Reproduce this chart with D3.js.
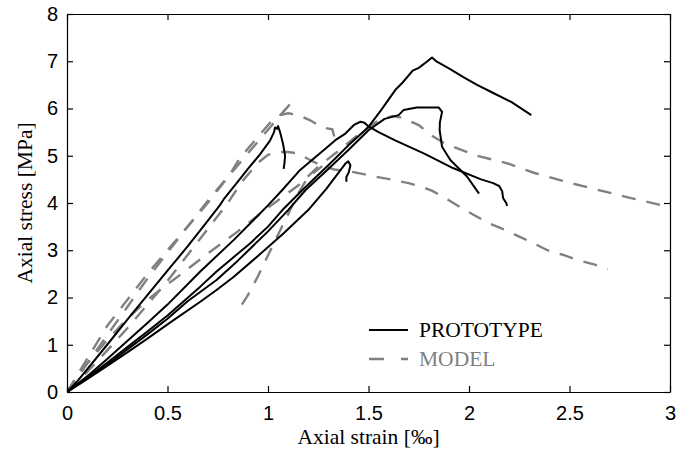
<!DOCTYPE html>
<html>
<head>
<meta charset="utf-8">
<script src="https://cdn.jsdelivr.net/npm/d3@7"></script>
<style>
  body { margin: 0; background: #fff; }
</style>
</head>
<body>
<div id="chart"></div>
<script>
// tick values
const xTicks = [0, 0.5, 1, 1.5, 2, 2.5, 3];
const yTicks = [0, 1, 2, 3, 4, 5, 6, 7, 8];
const xTickLabels = ["0", "0.5", "1", "1.5", "2", "2.5", "3"];

// PROTOTYPE curves, [strain ‰, stress MPa]
const proto1 = [[0,0],[0.05,0.22],[0.1,0.48],[0.2,1.0],[0.3,1.53],[0.4,2.05],[0.5,2.57],[0.6,3.08],[0.7,3.62],[0.76,3.95],[0.78,4.08],[0.85,4.45],[0.9,4.72],[0.96,5.03],[1.01,5.32],[1.03,5.5],[1.035,5.6],[1.045,5.57],[1.05,5.63],[1.06,5.5],[1.075,5.25],[1.085,5.0],[1.082,4.85],[1.078,4.72]];
const proto2 = [[0,0],[0.1,0.33],[0.2,0.7],[0.3,1.08],[0.4,1.46],[0.5,1.85],[0.663,2.55],[0.83,3.22],[1.0,3.95],[1.07,4.27],[1.16,4.7],[1.25,5.02],[1.3,5.2],[1.335,5.33],[1.385,5.47],[1.43,5.66],[1.46,5.72],[1.48,5.7],[1.5,5.62],[1.55,5.5],[1.63,5.33],[1.78,5.04],[1.92,4.74],[2.06,4.5],[2.12,4.42],[2.15,4.36],[2.165,4.25],[2.17,4.1],[2.185,4.0],[2.19,3.94]];
const proto3 = [[0,0],[0.1,0.3],[0.2,0.62],[0.3,0.95],[0.4,1.28],[0.5,1.62],[0.663,2.23],[0.744,2.55],[0.912,3.15],[1.0,3.5],[1.078,3.88],[1.17,4.27],[1.3,4.8],[1.4,5.22],[1.5,5.61],[1.56,5.95],[1.633,6.39],[1.67,6.55],[1.72,6.8],[1.75,6.86],[1.79,6.99],[1.816,7.08],[1.84,6.99],[1.9,6.85],[1.97,6.67],[2.04,6.5],[2.106,6.36],[2.21,6.14],[2.31,5.86]];
const proto4 = [[0,0],[0.1,0.28],[0.2,0.58],[0.3,0.9],[0.4,1.22],[0.5,1.55],[0.6,1.92],[0.744,2.37],[0.85,2.78],[1.0,3.4],[1.1,3.85],[1.186,4.27],[1.3,4.72],[1.4,5.12],[1.5,5.54],[1.58,5.78],[1.65,5.86],[1.675,5.97],[1.74,6.02],[1.85,6.02],[1.866,5.93],[1.855,5.7],[1.854,5.54],[1.866,5.19],[1.907,4.91],[1.99,4.56],[2.05,4.2]];
const proto5 = [[0,0],[0.1,0.27],[0.2,0.55],[0.3,0.84],[0.4,1.13],[0.5,1.43],[0.663,1.91],[0.744,2.16],[0.83,2.44],[0.95,2.88],[1.078,3.36],[1.2,3.85],[1.29,4.3],[1.34,4.58],[1.37,4.75],[1.386,4.84],[1.4,4.88],[1.41,4.8],[1.402,4.65],[1.39,4.55],[1.39,4.45]];

// MODEL curves
const model1 = [[0,0],[0.1,0.6],[0.2,1.2],[0.3,1.8],[0.4,2.4],[0.5,2.95],[0.6,3.5],[0.7,4.0],[0.8,4.55],[0.9,5.05],[1.0,5.55],[1.08,5.95],[1.136,6.22]];
const model2 = [[0,0],[0.1,0.7],[0.2,1.4],[0.3,1.95],[0.4,2.5],[0.5,3.0],[0.6,3.5],[0.72,4.15],[0.81,4.6],[0.86,4.95],[0.95,5.4],[1.02,5.75],[1.06,5.86],[1.1,5.9],[1.15,5.86],[1.21,5.75],[1.27,5.6],[1.32,5.56],[1.33,5.4]];
const model3 = [[0,0],[0.1,0.42],[0.2,0.88],[0.3,1.35],[0.4,1.85],[0.5,2.35],[0.6,2.9],[0.7,3.45],[0.8,4.0],[0.87,4.45],[0.95,4.85],[1.0,5.02],[1.05,5.08],[1.1,5.08],[1.15,5.05],[1.2,4.93],[1.27,4.78],[1.33,4.71],[1.42,4.66],[1.52,4.57],[1.62,4.49],[1.7,4.42],[1.76,4.35],[1.82,4.25],[1.9,4.06],[1.965,3.89],[2.04,3.71],[2.1,3.57],[2.18,3.43],[2.25,3.29],[2.32,3.15],[2.39,3.0],[2.47,2.9],[2.54,2.79],[2.63,2.69],[2.69,2.6]];
const model4 = [[0,0],[0.1,0.6],[0.2,1.1],[0.3,1.55],[0.4,1.95],[0.5,2.28],[0.6,2.6],[0.7,2.93],[0.85,3.4],[1.0,3.9],[1.15,4.37],[1.25,4.77],[1.35,5.1],[1.45,5.45],[1.55,5.75],[1.62,5.84],[1.67,5.8],[1.75,5.65],[1.81,5.44],[1.88,5.26],[2.04,5.0],[2.19,4.84],[2.33,4.63],[2.49,4.44],[2.64,4.28],[2.8,4.11],[2.95,3.96],[3.0,3.9]];
const model5 = [[0.87,1.85],[0.9,2.05],[0.95,2.45],[1.02,3.07],[1.094,3.71],[1.15,4.2],[1.2,4.55],[1.27,4.78]];

const prototypeCurves = [proto1, proto2, proto3, proto4, proto5];
const modelCurves = [model1, model2, model3, model4, model5];

const width = 676, height = 452;
const margin = { top: 14, right: 6, bottom: 60, left: 67 };
const plotW = width - margin.left - margin.right;
const plotH = height - margin.top - margin.bottom;

const svg = d3.select('#chart').append('svg')
    .attr('width', width)
    .attr('height', height);

const g = svg.append('g')
    .attr('transform', `translate(${margin.left},${margin.top})`);

const x = d3.scaleLinear().domain([0, 3]).range([0, plotW]);
const y = d3.scaleLinear().domain([0, 8]).range([plotH, 0]);

g.append('clipPath').attr('id', 'clip')
  .append('rect').attr('width', plotW).attr('height', plotH);

const line = d3.line().x(d => x(d[0])).y(d => y(d[1]));

const curves = g.append('g').attr('clip-path', 'url(#clip)');

// model first (under), prototype on top
curves.selectAll('.model')
    .data(modelCurves)
    .enter().append('path')
    .attr('class', 'model')
    .attr('d', line)
    .attr('fill', 'none')
    .attr('stroke', '#808080')
    .attr('stroke-width', 2.4)
    .attr('stroke-dasharray', '14,11');

curves.selectAll('.proto')
    .data(prototypeCurves)
    .enter().append('path')
    .attr('class', 'proto')
    .attr('d', line)
    .attr('fill', 'none')
    .attr('stroke', '#000')
    .attr('stroke-width', 2)
    .attr('stroke-linejoin', 'round');

// axes, ticks pointing inward
const tickFont = '"Liberation Sans", Arial, sans-serif';

const bottomAxis = d3.axisBottom(x).tickValues(xTicks)
    .tickFormat((d, i) => xTickLabels[i])
    .tickSizeInner(-6).tickSizeOuter(0).tickPadding(14);
const leftAxis = d3.axisLeft(y).tickValues(yTicks)
    .tickSizeInner(-6).tickSizeOuter(0).tickPadding(9);
const topAxis = d3.axisTop(x).tickValues(xTicks).tickFormat('')
    .tickSizeInner(-6).tickSizeOuter(0);
const rightAxis = d3.axisRight(y).tickValues(yTicks).tickFormat('')
    .tickSizeInner(-6).tickSizeOuter(0);

g.append('g').attr('transform', `translate(0,${plotH})`).call(bottomAxis);
g.append('g').call(leftAxis);
g.append('g').call(topAxis);
g.append('g').attr('transform', `translate(${plotW},0)`).call(rightAxis);

g.selectAll('.domain').attr('stroke', '#000').attr('stroke-width', 1.2);
g.selectAll('.tick line').attr('stroke', '#000').attr('stroke-width', 1.2);
g.selectAll('.tick text')
    .attr('font-family', tickFont)
    .attr('font-size', 20)
    .attr('fill', '#000');

// axis titles
const serif = '"Liberation Serif", "Times New Roman", serif';
svg.append('text')
    .attr('x', margin.left + plotW / 2)
    .attr('y', 444)
    .attr('text-anchor', 'middle')
    .attr('font-family', serif)
    .attr('font-size', 21.5)
    .text('Axial strain [‰]');

svg.append('text')
    .attr('transform', `translate(32,${margin.top + plotH / 2}) rotate(-90)`)
    .attr('text-anchor', 'middle')
    .attr('font-family', serif)
    .attr('font-size', 21.5)
    .text('Axial stress [MPa]');

// legend
const legend = svg.append('g');
legend.append('line')
    .attr('x1', 369).attr('x2', 408).attr('y1', 330).attr('y2', 330)
    .attr('stroke', '#000').attr('stroke-width', 2);
legend.append('text')
    .attr('x', 419).attr('y', 337)
    .attr('font-family', serif).attr('font-size', 21.5)
    .text('PROTOTYPE');
legend.append('line')
    .attr('x1', 369).attr('x2', 408).attr('y1', 359).attr('y2', 359)
    .attr('stroke', '#808080').attr('stroke-width', 2.4)
    .attr('stroke-dasharray', '15,17');
legend.append('text')
    .attr('x', 419).attr('y', 366)
    .attr('font-family', serif).attr('font-size', 21.5)
    .attr('fill', '#808080')
    .text('MODEL');
</script>
</body>
</html>
